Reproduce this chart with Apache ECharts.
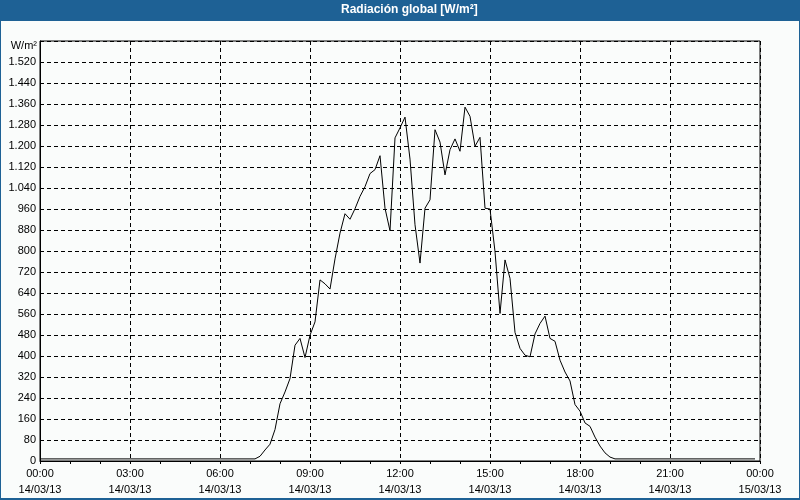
<!DOCTYPE html>
<html>
<head>
<meta charset="utf-8">
<script src="https://cdn.jsdelivr.net/npm/echarts@6/dist/echarts.min.js"></script>
<style>
html,body{margin:0;padding:0;background:#fafcfb;}
#chart{width:800px;height:500px;}
</style>
</head>
<body>
<div id="chart"></div>
<script>
// Title and units
const chartTitle = 'Radiación global [W/m²]';
const unitLabel = 'W/m²';
const startDate = '14/03/13';
const endDate = '15/03/13';

// Categories: 10-minute steps from 00:00 on 14/03/13 to 00:00 on 15/03/13
const timeCategories = [];
for (let m = 0; m <= 1440; m += 10) {
  const hh = String(Math.floor(m / 60) % 24).padStart(2, '0');
  const mm = String(m % 60).padStart(2, '0');
  timeCategories.push(hh + ':' + mm + '\n' + (m === 1440 ? endDate : startDate));
}

// Global radiation values (W/m²), one per 10 minutes, 00:00 .. 23:50
const radiation = [
  8,8,8,8,8,8,8,8,8,8,8,8,
  8,8,8,8,8,8,8,8,8,8,8,8,
  8,8,8,8,8,8,8,8,8,8,8,8,
  8,8,8,8,8,8,8,8,
  18,42,64,120,218,263,314,441,467,394,479,530,
  690,675,655,770,868,942,921,961,1008,1045,1095,1110,
  1163,963,877,1231,1269,1310,1150,900,754,963,995,1262,
  1215,1090,1186,1227,1180,1348,1313,1199,1233,963,960,798,
  562,766,696,490,429,403,397,484,524,552,467,456,
  384,339,305,215,190,145,132,91,57,31,15,
  8,8,8,8,8,8,8,8,8,8,8,8,
  8,8,8,8,8,8,8,8,8,8,8,8,
  8,8,8,8,8
];

// Y axis settings
const yMin = 0, yMax = 1600, yStep = 80;

const fontFam = '"Liberation Sans", Arial, sans-serif';
const chart = echarts.init(document.getElementById('chart'), null, {renderer: 'canvas'});

function fmtThousands(v) {
  return String(v).replace(/\B(?=(\d{3})+(?!\d))/g, '.');
}

chart.setOption({
  backgroundColor: '#fafcfb',
  animation: false,
  grid: {left: 40, right: 40, top: 41, bottom: 39, show: true, borderColor: '#000', borderWidth: 1, backgroundColor: 'transparent'},
  graphic: [
    {type: 'rect', shape: {x: 0, y: 0, width: 800, height: 21}, style: {fill: '#1e6195'}, z: 10},
    {type: 'rect', shape: {x: 0, y: 0, width: 800, height: 499}, style: {fill: 'none', stroke: '#1e6195', lineWidth: 2}, z: 10},
    {type: 'text', left: 341, top: 4, style: {text: chartTitle, fill: '#ffffff', font: 'bold 12px ' + fontFam}, z: 11},
    {type: 'text', x: 37, y: 46, style: {text: unitLabel, fill: '#000', font: '11px ' + fontFam, align: 'right', verticalAlign: 'middle'}, z: 11}
  ],
  xAxis: {
    type: 'category',
    data: timeCategories,
    boundaryGap: false,
    axisLine: {show: true, lineStyle: {color: '#000', width: 1}},
    axisTick: {show: true, interval: 5, length: 3, inside: false, lineStyle: {color: '#000'}},
    axisLabel: {interval: 17, margin: 5, color: '#000', fontFamily: fontFam, fontSize: 11, lineHeight: 16, showMaxLabel: true, showMinLabel: true},
    splitLine: {show: true, interval: 17, lineStyle: {color: '#000', type: [4, 3], width: 1}}
  },
  yAxis: {
    type: 'value',
    min: yMin, max: yMax, interval: yStep,
    axisLine: {show: true, lineStyle: {color: '#000'}},
    axisTick: {show: false},
    axisLabel: {margin: 4, color: '#000', fontFamily: fontFam, fontSize: 11,
      formatter: function (v) { return v >= yMax ? '' : fmtThousands(v); }},
    splitLine: {show: true, lineStyle: {color: '#000', type: [4, 3], width: 1}}
  },
  series: [{
    type: 'line',
    data: radiation,
    showSymbol: false,
    symbol: 'none',
    lineStyle: {color: '#000', width: 1},
    z: 5
  }]
});
</script>
</body>
</html>
